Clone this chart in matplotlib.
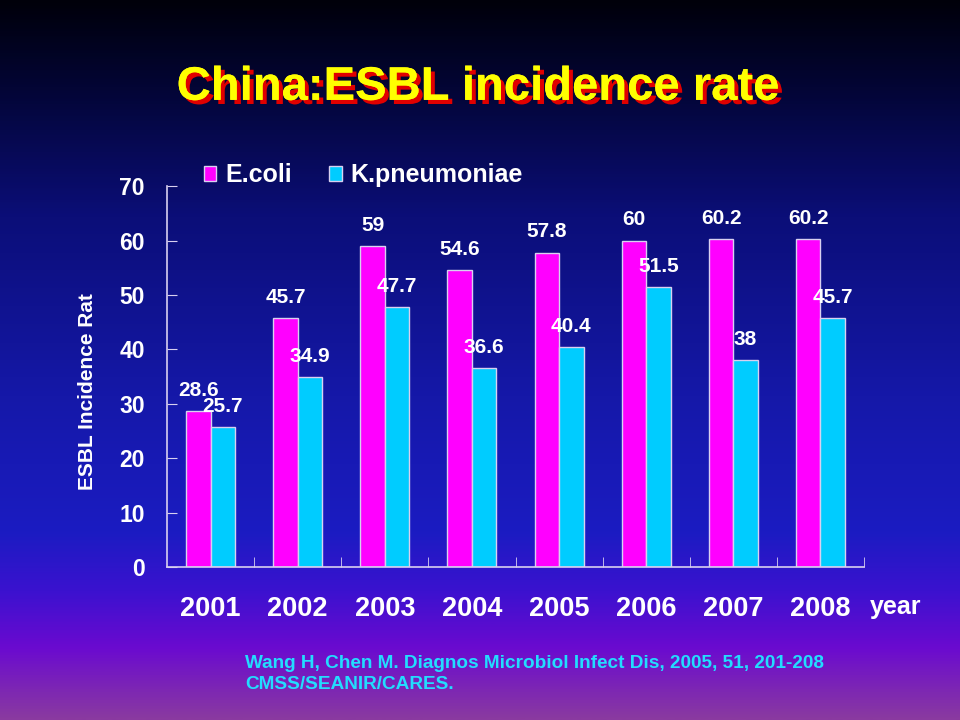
import numpy as np
import matplotlib
matplotlib.use('Agg')
import matplotlib.pyplot as plt
import matplotlib.patheffects as pe
from matplotlib.colors import LinearSegmentedColormap

years = ['2001', '2002', '2003', '2004', '2005', '2006', '2007', '2008']
ecoli = [28.6, 45.7, 59, 54.6, 57.8, 60, 60.2, 60.2]
kpneu = [25.7, 34.9, 47.7, 36.6, 40.4, 51.5, 38, 45.7]
ecoli_labels = ['28.6', '45.7', '59', '54.6', '57.8', '60', '60.2', '60.2']
kpneu_labels = ['25.7', '34.9', '47.7', '36.6', '40.4', '51.5', '38', '45.7']

plt.rcParams['font.family'] = ['Liberation Sans', 'DejaVu Sans']

fig = plt.figure(figsize=(9.6, 7.2), dpi=100)

# background gradient
bg = fig.add_axes([0, 0, 1, 1])
bg.set_axis_off()
cmap = LinearSegmentedColormap.from_list('bg', [
    (0.0, '#00000a'), (0.12, '#030535'), (0.3, '#0b0e78'),
    (0.55, '#1518a8'), (0.74, '#1b1cc2'), (0.82, '#3a12cf'),
    (0.9, '#6a0ad0'), (1.0, '#8a3aa0')])
grad = np.linspace(0, 1, 512).reshape(-1, 1)
bg.imshow(grad, aspect='auto', cmap=cmap, extent=[0, 1, 0, 1], origin='upper')
bg.set_xlim(0, 1)
bg.set_ylim(0, 1)

ax = fig.add_axes([0.174, 0.2125, 0.726, 0.529])
ax.patch.set_alpha(0)

x = np.arange(len(years))
w = 0.281
edge = '#d8d0f0'
ax.bar(x - w / 2, ecoli, w, color='#ff00ff', edgecolor=edge, linewidth=1, label='E.coli')
ax.bar(x + w / 2, kpneu, w, color='#00ccff', edgecolor=edge, linewidth=1, label='K.pneumoniae')

for xi, v, t in zip(x, ecoli, ecoli_labels):
    ax.annotate(t, (xi - w / 2, v), xytext=(0, 8), textcoords='offset points',
                ha='center', va='bottom', color='white', fontsize=15,
                fontweight='bold')
for xi, v, t in zip(x, kpneu, kpneu_labels):
    ax.annotate(t, (xi + w / 2, v), xytext=(0, 8), textcoords='offset points',
                ha='center', va='bottom', color='white', fontsize=15,
                fontweight='bold')

ax.set_xlim(-0.5, len(years) - 0.5)
ax.set_ylim(0, 70)
ax.set_yticks(range(0, 71, 10))
ax.tick_params(axis='y', direction='in', length=7, color=edge, labelcolor='white',
               labelsize=16.5, pad=16)
for lab in ax.get_yticklabels():
    lab.set_fontweight('bold')
ax.set_xticks(x)
ax.set_xticklabels(years, fontsize=19.5, fontweight='bold', color='white')
ax.tick_params(axis='x', length=0, pad=21)
ax.set_xticks(np.arange(0.5, len(years), 1), minor=True)
ax.tick_params(axis='x', which='minor', direction='in', length=7, color=edge)

for s in ['top', 'right']:
    ax.spines[s].set_visible(False)
for s in ['left', 'bottom']:
    ax.spines[s].set_color(edge)
    ax.spines[s].set_linewidth(1.2)

ax.set_ylabel('ESBL Incidence Rat', color='white', fontsize=15, fontweight='bold')
ax.yaxis.set_label_coords(-0.1, 0.46)

ax.text(1.045, -0.105, 'year', transform=ax.transAxes, color='white', fontsize=18,
        fontweight='bold', ha='center', va='center')

leg = ax.legend(loc='center left', bbox_to_anchor=(0.053, 1.028), ncol=2, frameon=False,
                fontsize=18, handlelength=0.5, handleheight=0.5, handletextpad=0.35,
                columnspacing=1.5, borderaxespad=0, borderpad=0)
for t in leg.get_texts():
    t.set_color('white')
    t.set_fontweight('bold')

fig.text(0.498, 0.878, 'China:ESBL incidence rate', color='#ffff00', fontsize=34,
         fontweight='bold', ha='center', va='center',
         path_effects=[pe.withSimplePatchShadow(offset=(3, -3), shadow_rgbFace='#e00000', alpha=1),
                       pe.Normal()])

fig.text(0.255, 0.064, 'Wang H, Chen M. Diagnos Microbiol Infect Dis, 2005, 51, 201-208\nCMSS/SEANIR/CARES.',
         color='#22ddff', fontsize=13.7, fontweight='bold',
         ha='left', va='center', linespacing=1.25)

fig.savefig('out.png', dpi=100)
